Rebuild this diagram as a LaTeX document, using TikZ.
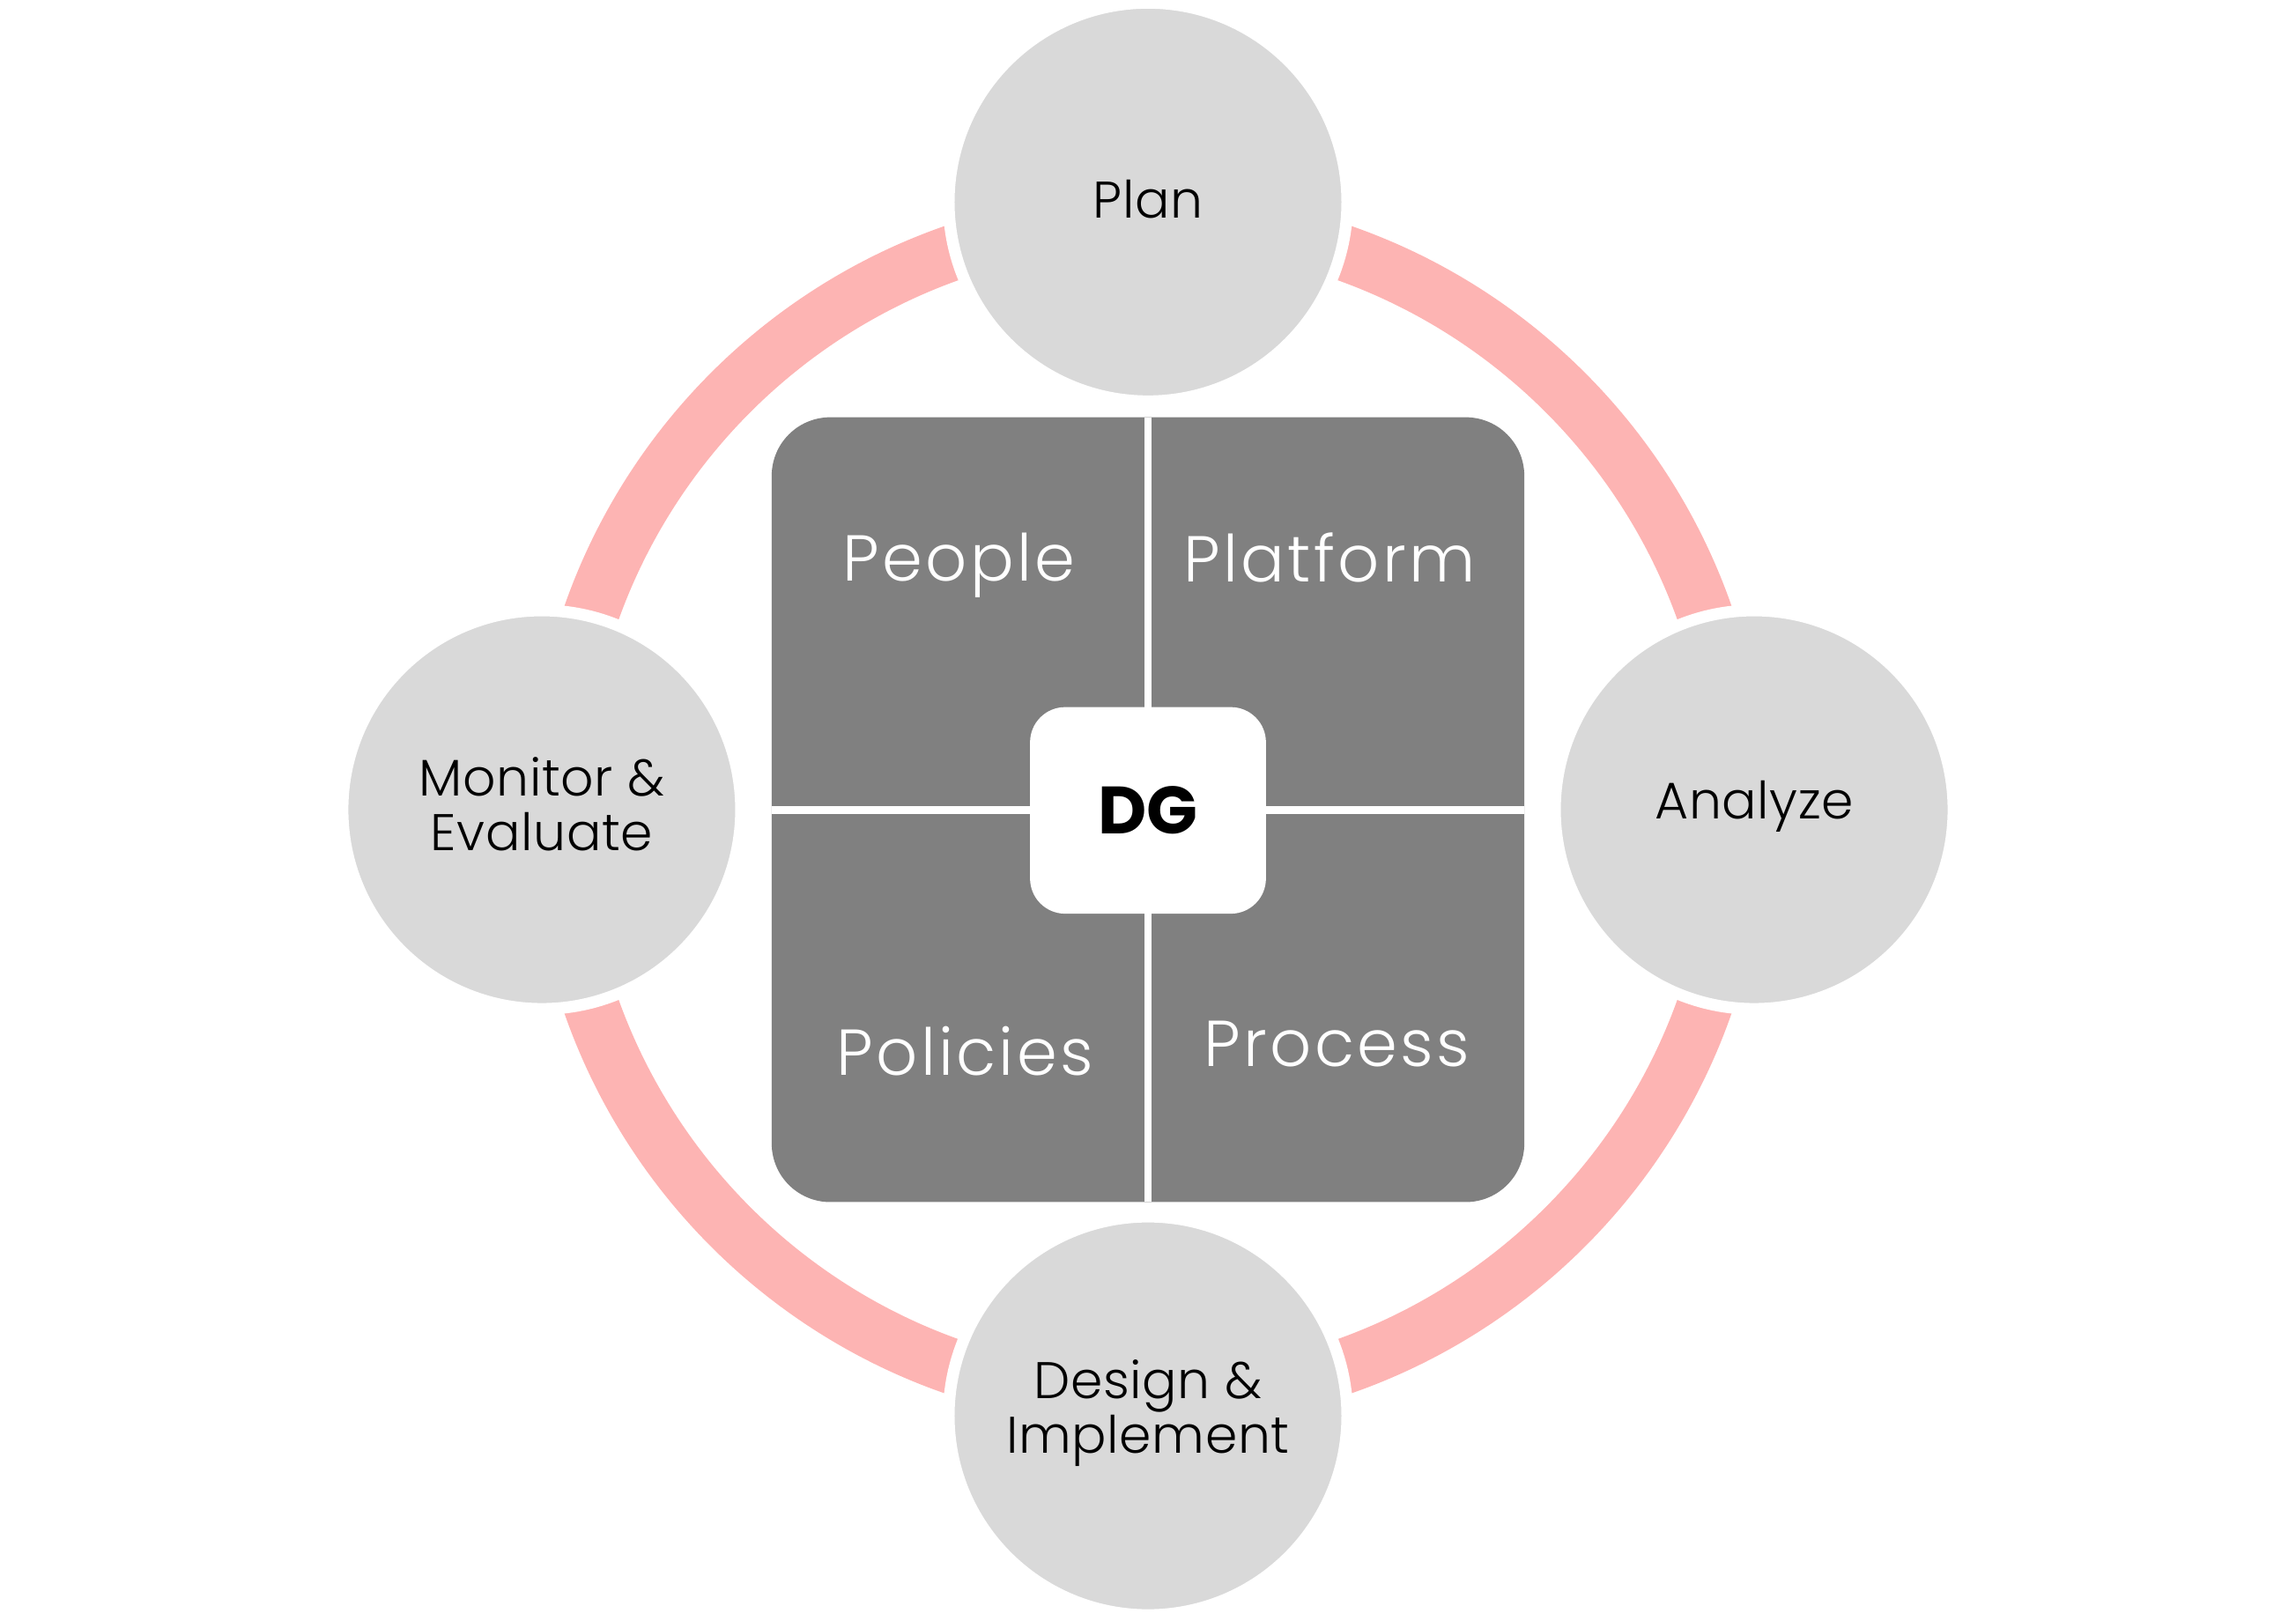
\documentclass[tikz,border=0pt]{standalone}
\usepackage{fontspec}
\setmainfont{Poppins}[UprightFont=* Light, BoldFont=* Bold]
\newfontfamily\outerfont{Poppins}[UprightFont=* Light, LetterSpace=1]
\newfontfamily\innerfont{Poppins}[UprightFont=* Light, LetterSpace=4.5]
\definecolor{ringpink}{HTML}{FDB4B3}
\definecolor{stagegrey}{HTML}{D9D9D9}
\definecolor{blockgrey}{HTML}{808080}
\begin{document}
\begin{tikzpicture}[x=0.01cm,y=-0.01cm,
  stage/.style={circle, fill=stagegrey, draw=white, line width=0.08cm,
    minimum size=2.72cm, inner sep=0pt},
  stagetext/.style={font=\outerfont\fontsize{10}{10.6}\selectfont, text=black,
    align=center, inner sep=0pt},
  quadlabel/.style={text=white, font=\innerfont\fontsize{12.6}{14}\selectfont, inner sep=0pt},
  dgbox/.style={fill=white, rounded corners=0.24cm, minimum width=1.61cm,
    minimum height=1.41cm, inner sep=0pt, font=\bfseries\fontsize{13}{14}\selectfont},
  divider/.style={draw=white, line width=0.054cm}]
\useasboundingbox (0,0) rectangle (1568,1107);
% ring
\coordinate (ctr) at (784,553);
\draw[ringpink, line width=0.38cm] (ctr) circle[radius=403];
% central block
\fill[blockgrey, rounded corners=0.4cm] (527,285) rectangle (1041,821);
\coordinate (vtop) at (784,285);
\coordinate (vbot) at (784,821);
\coordinate (hleft) at (527,553);
\coordinate (hright) at (1041,553);
\draw[divider] (vtop) -- (vbot);
\draw[divider] (hleft) -- (hright);
\node[dgbox] (dg) at (784,553.5) {DG};
% quadrant labels
\node[quadlabel] (people) at (655,386) {People};
\node[quadlabel] (platform) at (908,381) {Platform};
\node[quadlabel] (policies) at (659,718) {Policies};
\node[quadlabel] (process) at (913,713) {Process};
% stages
\node[stage] (plan) at (784,138) {};
\node[stage] (analyze) at (1198,553) {};
\node[stage] (design) at (784,967) {};
\node[stage] (monitor) at (370,553) {};
\node[stagetext] (plantext) at ([yshift=0.02cm]plan.center) {Plan};
\node[stagetext] (analyzetext) at ([yshift=0.02cm]analyze.center) {Analyze};
\node[stagetext] (designtext) at ([yshift=0.02cm]design.center) {Design \&\\Implement};
\node[stagetext] (monitortext) at ([yshift=0.04cm]monitor.center) {Monitor \&\\Evaluate};
\end{tikzpicture}
\end{document}
